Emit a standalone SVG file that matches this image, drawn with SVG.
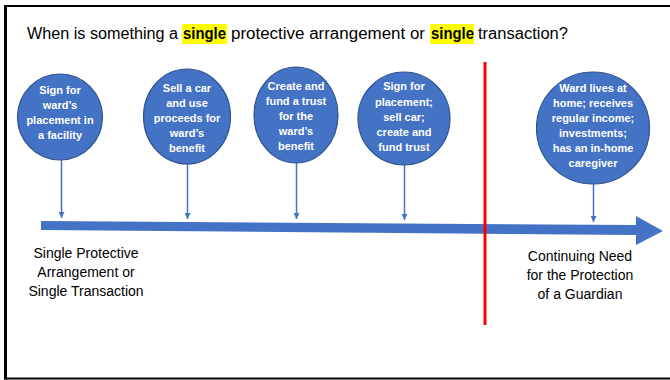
<svg xmlns="http://www.w3.org/2000/svg" width="670" height="380" viewBox="0 0 670 380">
<style>
.title{font-family:"Liberation Sans",Arial,sans-serif;font-size:16px;fill:#000}
.b{font-weight:bold}
.node ellipse{fill:#4472C4;stroke:#2F528F;stroke-width:1.2}
.node text{font-family:"Liberation Sans",Arial,sans-serif;font-size:11px;font-weight:bold;fill:#fff;text-anchor:middle}
.lbl{font-family:"Liberation Sans",Arial,sans-serif;font-size:14px;fill:#000;text-anchor:middle}
.conn line{stroke:#4472C4;stroke-width:1.5;marker-end:url(#ah)}
</style>
<defs>
<marker id="ah" viewBox="0 0 10 10" refX="10" refY="5" markerWidth="6" markerHeight="6" markerUnits="userSpaceOnUse" orient="auto">
<path d="M0,0 L10,5 L0,10 z" fill="#4472C4"/>
</marker>
</defs>
<rect width="670" height="380" fill="#fff"/>
<g id="frame" stroke="#000" fill="none">
<line x1="5.5" y1="5" x2="5.5" y2="379.5" stroke-width="3"/>
<line x1="4" y1="6" x2="670" y2="6" stroke-width="2"/>
<line x1="4" y1="378.5" x2="670" y2="378.5" stroke-width="2"/>
</g>
<g id="title">
<rect x="182" y="24" width="45" height="20" fill="#FFFF00"/>
<rect x="430" y="24" width="44" height="20" fill="#FFFF00"/>
<text class="title" x="27" y="39" textLength="151" lengthAdjust="spacingAndGlyphs">When is something a</text>
<text class="title b" x="183" y="39" textLength="43" lengthAdjust="spacingAndGlyphs">single</text>
<text class="title" x="231" y="39" textLength="194" lengthAdjust="spacingAndGlyphs">protective arrangement or</text>
<text class="title b" x="431" y="39" textLength="43" lengthAdjust="spacingAndGlyphs">single</text>
<text class="title" x="478" y="39" textLength="90" lengthAdjust="spacingAndGlyphs">transaction?</text>
</g>
<g id="timeline">
<polygon points="41,221 636,225 636,216 663,231 636,245 636,235 41,230" fill="#4472C4"/>
</g>
<g id="divider">
<line x1="485" y1="62" x2="485" y2="325" stroke="#FF0000" stroke-width="3"/>
</g>
<g class="conn" id="connectors">
<line x1="61.5" y1="160" x2="61.5" y2="218"/>
<line x1="187.5" y1="164" x2="187.5" y2="219"/>
<line x1="296.5" y1="163" x2="296.5" y2="219"/>
<line x1="404.5" y1="165" x2="404.5" y2="220"/>
<line x1="593.5" y1="184" x2="593.5" y2="222"/>
</g>
<g class="node" id="n1">
<ellipse cx="60" cy="117" rx="42.5" ry="43"/>
<text x="60" y="94">Sign for</text>
<text x="60" y="109">ward’s</text>
<text x="60" y="124">placement in</text>
<text x="60" y="139">a facility</text>
</g>
<g class="node" id="n2">
<ellipse cx="187" cy="116.5" rx="43.5" ry="47.5"/>
<text x="187" y="92">Sell a car</text>
<text x="187" y="107">and use</text>
<text x="187" y="122">proceeds for</text>
<text x="187" y="137">ward’s</text>
<text x="187" y="152">benefit</text>
</g>
<g class="node" id="n3">
<ellipse cx="296" cy="115" rx="42" ry="48"/>
<text x="296" y="90">Create and</text>
<text x="296" y="105">fund a trust</text>
<text x="296" y="120">for the</text>
<text x="296" y="135">ward’s</text>
<text x="296" y="150">benefit</text>
</g>
<g class="node" id="n4">
<ellipse cx="404" cy="118.5" rx="46" ry="46.5"/>
<text x="404" y="90">Sign for</text>
<text x="404" y="106">placement;</text>
<text x="404" y="121">sell car;</text>
<text x="404" y="136">create and</text>
<text x="404" y="151">fund trust</text>
</g>
<g class="node" id="n5">
<ellipse cx="593" cy="128" rx="56.5" ry="56"/>
<text x="593" y="92">Ward lives at</text>
<text x="593" y="107">home; receives</text>
<text x="593" y="122">regular income;</text>
<text x="593" y="137">investments;</text>
<text x="593" y="152">has an in-home</text>
<text x="593" y="167">caregiver</text>
</g>
<g id="label-left">
<text class="lbl" x="86" y="258">Single Protective</text>
<text class="lbl" x="86" y="277">Arrangement or</text>
<text class="lbl" x="86" y="296">Single Transaction</text>
</g>
<g id="label-right">
<text class="lbl" x="580" y="261">Continuing Need</text>
<text class="lbl" x="580" y="280">for the Protection</text>
<text class="lbl" x="580" y="299">of a Guardian</text>
</g>
</svg>
